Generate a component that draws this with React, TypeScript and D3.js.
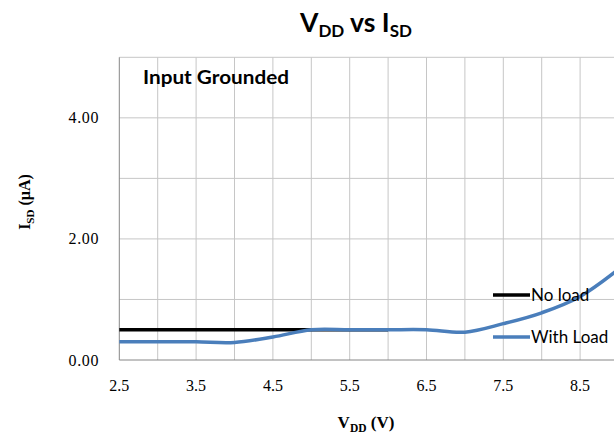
import React from "react";
import * as d3 from "d3";

const vddNoLoad = [2.5, 3.0, 3.5, 4.0, 4.5, 5.0, 5.5, 6.0];
const isdNoLoad = [0.5, 0.5, 0.5, 0.5, 0.5, 0.5, 0.5, 0.5];
const vddWithLoad = [2.5, 3.0, 3.5, 4.0, 4.5, 5.0, 5.5, 6.0, 6.5, 7.0, 7.5, 8.0, 8.5, 9.0];
const isdWithLoad = [0.3, 0.3, 0.3, 0.29, 0.38, 0.5, 0.5, 0.5, 0.5, 0.46, 0.6, 0.78, 1.05, 1.5];
const xTickLabels = [2.5, 3.5, 4.5, 5.5, 6.5, 7.5, 8.5];
const yTickLabels = [0, 2, 4];
const xGrid = [3.0, 3.5, 4.0, 4.5, 5.0, 5.5, 6.0, 6.5, 7.0, 7.5, 8.0, 8.5, 9.0];
const yGrid = [1, 2, 3, 4, 5];

const W = 614;
const H = 438;
const left = 119.3;
const top = 57.3;
const bottom = 360;
const pxPerV = 76.8;

export default function App() {
  const x = d3.scaleLinear().domain([2.5, 9]).range([left, left + 6.5 * pxPerV]);
  const y = d3.scaleLinear().domain([0, 5]).range([bottom, top]);
  const line = d3
    .line<[number, number]>()
    .x((d) => x(d[0]))
    .y((d) => y(d[1]))
    .curve(d3.curveCardinal.tension(0));
  const noLoad = vddNoLoad.map((v, i) => [v, isdNoLoad[i]] as [number, number]);
  const withLoad = vddWithLoad.map((v, i) => [v, isdWithLoad[i]] as [number, number]);
  const sans = "Lato, 'Open Sans', sans-serif";
  const serif = "'Liberation Serif', 'Times New Roman', serif";
  const blue = "#4a7ebb";

  return (
    <div style={{ position: "fixed", left: 0, top: 0 }}>
      <svg width={W} height={H} style={{ display: "block", background: "#fff" }}>
        <rect x={0} y={0} width={W} height={H} fill="#fff" />
        {/* grid */}
        {xGrid.map((v) => (
          <line key={"gx" + v} x1={x(v)} x2={x(v)} y1={y(5)} y2={y(0)} stroke="#c6c6c6" strokeWidth={1} />
        ))}
        {yGrid.map((v) => (
          <line key={"gy" + v} x1={left} x2={W} y1={y(v)} y2={y(v)} stroke="#c6c6c6" strokeWidth={1} />
        ))}
        {/* axes */}
        <line x1={left} x2={left} y1={y(5)} y2={y(0)} stroke="#868686" strokeWidth={1} />
        <line x1={left} x2={W} y1={y(0)} y2={y(0)} stroke="#868686" strokeWidth={1} />
        {/* series */}
        <path d={line(noLoad) || ""} fill="none" stroke="#000" strokeWidth={3.5} />
        <path d={line(withLoad) || ""} fill="none" stroke={blue} strokeWidth={3.5} />
        {/* tick labels */}
        {xTickLabels.map((v) => (
          <text key={"xt" + v} x={x(v)} y={391} textAnchor="middle" fontFamily={serif} fontSize={16}>
            {v.toFixed(1)}
          </text>
        ))}
        {yTickLabels.map((v) => (
          <text key={"yt" + v} x={99} y={y(v) + 5.5} textAnchor="end" fontFamily={serif} fontSize={16} letterSpacing={0.6}>
            {v.toFixed(2)}
          </text>
        ))}
        {/* title */}
        <text x={356} y={32} textAnchor="middle" fontFamily={sans} fontWeight="bold" fontSize={26.5}>
          V<tspan fontSize={17} dy={5}>DD</tspan>
          <tspan dy={-5}> vs I</tspan>
          <tspan fontSize={17} dy={5}>SD</tspan>
        </text>
        {/* annotation */}
        <text x={143} y={84} fontFamily={sans} fontWeight="bold" fontSize={19} textLength={146} lengthAdjust="spacingAndGlyphs">
          Input Grounded
        </text>
        {/* legend */}
        <line x1={493} x2={530} y1={295} y2={295} stroke="#000" strokeWidth={3.5} />
        <text x={531} y={301} fontFamily={sans} fontSize={17}>No load</text>
        <line x1={493} x2={530} y1={337} y2={337} stroke={blue} strokeWidth={3.5} />
        <text x={531} y={343} fontFamily={sans} fontSize={17}>With Load</text>
        {/* axis titles */}
        <text x={366} y={428} textAnchor="middle" fontFamily={serif} fontWeight="bold" fontSize={17}>
          V<tspan fontSize={11.5} dy={4}>DD</tspan>
          <tspan dy={-4}> (V)</tspan>
        </text>
        <text
          transform={`translate(30, 202) rotate(-90)`}
          textAnchor="middle"
          fontFamily={serif}
          fontWeight="bold"
          fontSize={16}
        >
          I<tspan fontSize={11} dy={4}>SD</tspan>
          <tspan dy={-4}> (µA)</tspan>
        </text>
      </svg>
    </div>
  );
}
